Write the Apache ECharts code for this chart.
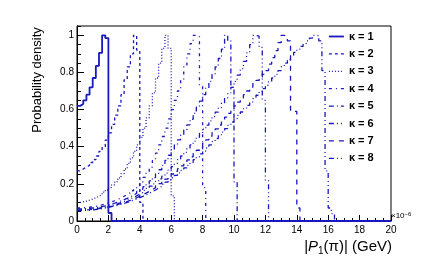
<!DOCTYPE html>
<html><head><meta charset="utf-8">
<script src="https://cdn.jsdelivr.net/npm/echarts@6/dist/echarts.min.js"></script>
<style>html,body{margin:0;padding:0;background:#fff}#c{width:434px;height:271px}</style>
</head><body><div id="c"></div>
<script>
// ---- data (bin width 0.2 ×10^-6 GeV, bins start at 0) ----
const binWidth = 0.2;
const xMin = 0, xMax = 20, xStep = 2;
const yMin = 0, yMax = 1.05, yStep = 0.2;
const seriesNames = ['κ = 1','κ = 2','κ = 3','κ = 4','κ = 5','κ = 6','κ = 7','κ = 8'];
const kappa1 = [0.62,0.63,0.65,0.68,0.72,0.77,0.835,0.905,1.0,0.985,0.043];
const kappa2 = [0.27,0.28,0.29,0.30,0.315,0.33,0.35,0.375,0.40,0.435,0.475,0.52,0.57,0.62,0.68,0.76,0.83,0.90,1.0,0.92,0.10];
const kappa3 = [0.10,0.103,0.107,0.112,0.118,0.125,0.133,0.143,0.155,0.167,0.18,0.195,0.212,0.232,0.255,0.28,0.31,0.34,0.375,0.41,0.45,0.50,0.555,0.62,0.69,0.77,0.85,0.93,1.0,0.93,0.135];
const kappa4 = [0.07,0.071,0.072,0.074,0.076,0.079,0.083,0.087,0.092,0.097,
  0.103,0.109,0.116,0.124,0.133,0.142,0.152,0.163,0.175,0.19,
  0.21,0.235,0.26,0.29,0.325,0.365,0.41,0.455,0.50,0.55,
  0.60,0.65,0.70,0.76,0.83,0.90,0.955,1.0,0.995,0.73,
  0.18];
const kappa5 = [0.065,0.066,0.067,0.068,0.07,0.072,0.075,0.078,0.082,0.086,
  0.091,0.096,0.102,0.108,0.115,0.122,0.13,0.139,0.149,0.16,
  0.172,0.185,0.2,0.216,0.234,0.254,0.276,0.30,0.326,0.354,
  0.383,0.41,0.437,0.463,0.49,0.518,0.548,0.58,0.613,0.645,
  0.68,0.715,0.752,0.79,0.83,0.875,0.925,1.0,0.97,0.72,
  0.21];
const kappa6 = [0.06,0.061,0.062,0.063,0.065,0.067,0.069,0.072,0.075,0.079,
  0.083,0.088,0.093,0.099,0.105,0.112,0.119,0.127,0.135,0.144,
  0.154,0.165,0.176,0.188,0.20,0.213,0.227,0.242,0.258,0.275,
  0.293,0.311,0.33,0.35,0.37,0.39,0.41,0.43,0.451,0.472,
  0.494,0.516,0.539,0.562,0.586,0.61,0.635,0.662,0.69,0.72,
  0.752,0.786,0.82,0.86,0.905,0.95,1.0,0.995,0.935,0.65,
  0.22];
const kappa7 = [0.058,0.059,0.06,0.061,0.063,0.065,0.067,0.07,0.073,0.076,
  0.08,0.084,0.089,0.094,0.099,0.105,0.111,0.118,0.125,0.133,
  0.141,0.15,0.159,0.169,0.179,0.19,0.201,0.213,0.226,0.239,
  0.253,0.267,0.282,0.297,0.313,0.329,0.346,0.363,0.381,0.399,
  0.418,0.437,0.456,0.476,0.496,0.517,0.538,0.559,0.58,0.60,
  0.62,0.64,0.66,0.68,0.70,0.72,0.74,0.757,0.775,0.79,
  0.81,0.845,0.88,0.917,0.96,1.0,0.995,0.97,0.59,0.59,
  0.07];
const kappa8 = [0.055,0.056,0.057,0.058,0.06,0.062,0.064,0.067,0.07,0.073,
  0.077,0.081,0.085,0.09,0.095,0.1,0.106,0.112,0.119,0.126,
  0.133,0.141,0.149,0.158,0.167,0.177,0.187,0.198,0.209,0.221,
  0.233,0.246,0.259,0.272,0.286,0.30,0.315,0.33,0.345,0.361,
  0.377,0.393,0.41,0.427,0.444,0.461,0.479,0.497,0.515,0.533,
  0.551,0.569,0.587,0.605,0.623,0.641,0.659,0.677,0.695,0.713,
  0.731,0.75,0.77,0.79,0.81,0.83,0.85,0.87,0.89,0.908,
  0.925,0.94,0.955,0.97,0.985,1.0,0.998,0.97,0.81,0.27,
  0.07,0.04];
const allKappa = [kappa1,kappa2,kappa3,kappa4,kappa5,kappa6,kappa7,kappa8];

// ---- styles ----
const lineColor = '#1818bc';
const dashes = ['solid',[3,3],[1,2],[3,4,1,4],[5,3,1,3],[5,3,1,3,1,3,1,3],[5,5],[5,3,1,3,1,3]];
const widths = [1.8,1.3,1.3,1.3,1.3,1.3,1.3,1.3];
const FONT = 'Liberation Sans, Arial, Helvetica, sans-serif';

function histPoints(vals){
  const pts = vals.map((v,i)=>[+(i*binWidth).toFixed(3), v]);
  pts.push([+(vals.length*binWidth).toFixed(3), 0]);
  pts.push([xMax, 0]);
  return pts;
}

const chart = echarts.init(document.getElementById('c'), null, {renderer:'canvas'});
chart.setOption({
  animation:false,
  backgroundColor:'#fff',
  grid:{left:77,right:43,top:26,bottom:50,show:true,borderColor:'#000',borderWidth:1,backgroundColor:'transparent'},
  xAxis:[{
    type:'value',min:xMin,max:xMax,interval:xStep,
    axisLine:{show:true,lineStyle:{color:'#000',width:1}},
    axisTick:{inside:true,length:6,lineStyle:{color:'#000'}},
    minorTick:{show:true,splitNumber:4,length:3,lineStyle:{color:'#000'}},
    axisLabel:{color:'#000',fontSize:10,fontFamily:FONT,margin:4},
    splitLine:{show:false}
  }],
  yAxis:[{
    type:'value',min:yMin,max:yMax,interval:yStep,position:'left',
    axisLine:{show:true,lineStyle:{color:'#000',width:1}},
    axisTick:{inside:true,length:7,lineStyle:{color:'#000'}},
    axisLabel:{color:'#000',fontSize:10,fontFamily:FONT,margin:3,showMaxLabel:false,
      formatter:v=> (Math.abs(v/yStep-Math.round(v/yStep))<1e-6 && v<=1.0001) ? String(+v.toFixed(1)) : ''},
    splitLine:{show:false}
  },{
    type:'value',min:yMin,max:yMax,interval:0.05,position:'left',
    axisLine:{show:false},
    axisTick:{inside:true,length:4,lineStyle:{color:'#000'}},
    axisLabel:{show:false},
    splitLine:{show:false}
  }],
  legend:{
    orient:'vertical',left:328,top:31,padding:0,itemWidth:15,itemHeight:12,itemGap:6.4,
    selectedMode:false,
    itemStyle:{opacity:0},
    lineStyle:{width:1.3},
    textStyle:{color:'#000',fontSize:11,fontWeight:'bold',fontFamily:FONT},
    data:seriesNames.map((n,k)=>k===0?{name:n,lineStyle:{width:1.8}}:{name:n})
  },
  series: allKappa.map((vals,k)=>({
    name:seriesNames[k],type:'line',step:'end',symbol:'none',showSymbol:false,
    xAxisIndex:0,yAxisIndex:0,
    data:histPoints(vals),
    lineStyle:{color:lineColor,width:widths[k],type:dashes[k]},
    itemStyle:{color:lineColor},
    z:10-k, silent:true
  })),
  graphic:[
    {type:'text',x:37,y:80,rotation:Math.PI/2,
      style:{text:'Probability density',align:'center',verticalAlign:'middle',fill:'#000',font:'13px '+FONT}},
    {type:'text',x:392,y:247,
      style:{text:'{a||}{i|P}{s|1}{a|(π)| (GeV)}',align:'right',verticalAlign:'middle',fill:'#000',
        rich:{
          a:{fontSize:15,fontFamily:FONT,lineHeight:18,fill:'#000'},
          i:{fontSize:15,fontFamily:FONT,fontStyle:'italic',lineHeight:18,fill:'#000'},
          s:{fontSize:10,fontFamily:FONT,lineHeight:10,verticalAlign:'bottom',fill:'#000'}
        }}},
    {type:'text',x:391,y:216,
      style:{text:'{a|×10}{b|−6}',align:'left',verticalAlign:'middle',fill:'#000',
        rich:{
          a:{fontSize:8,fontFamily:FONT,lineHeight:10,fill:'#000'},
          b:{fontSize:6,fontFamily:FONT,lineHeight:6,verticalAlign:'top',fill:'#000'}
        }}}
  ]
});
</script></body></html>
